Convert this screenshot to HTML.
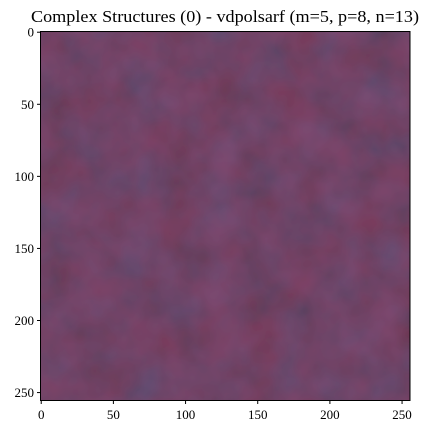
<!DOCTYPE html>
<html><head><meta charset="utf-8"><style>
body{margin:0;background:#fff;width:430px;height:434px;overflow:hidden}
text{font-family:"Liberation Serif",serif;fill:#000}
</style></head><body>
<svg width="430" height="434">
<defs>
<filter id="tex" x="0" y="0" width="1" height="1">
<feTurbulence type="fractalNoise" baseFrequency="0.025" numOctaves="3" seed="7" result="n"/>
<feColorMatrix in="n" type="matrix" values="0.3 0 0 0 0  0 0.1 0 0 0.02  0.05 0.25 0 0 0.02  0 0 0 0 0.4" result="c"/>
<feComposite in="c" in2="SourceGraphic" operator="in"/>
</filter>
</defs>
<text x="225" y="22" font-size="17" text-anchor="middle" textLength="388" lengthAdjust="spacingAndGlyphs">Complex Structures (0) - vdpolsarf (m=5, p=8, n=13)</text>
<g>
<rect x="40.5" y="31.5" width="369.5" height="369" fill="#733f5e"/>
<rect x="40.5" y="31.5" width="369.5" height="369" fill="#733f5e" filter="url(#tex)"/>
</g>
<rect x="40.5" y="31.5" width="369.5" height="369" fill="none" stroke="#000" stroke-width="1"/>
<g id="ticks"></g>
</svg>
<script>
const xTicks=[0,50,100,150,200,250];
const yTicks=[0,50,100,150,200,250];
const x0=40.5,y0=31.5,sx=369.5/256,sy=369/256;
const g=document.getElementById('ticks');
const NS='http://www.w3.org/2000/svg';
function mk(t,a){const e=document.createElementNS(NS,t);for(const k in a)e.setAttribute(k,a[k]);g.appendChild(e);return e;}
xTicks.forEach(v=>{const x=x0+(v+0.5)*sx;
const l=mk('line',{x1:x,x2:x,y1:400.5,y2:404,stroke:'#000'});


const t=mk('text',{x:x,y:419,'font-size':13,'text-anchor':'middle'});t.textContent=v;

});
yTicks.forEach(v=>{const y=y0+(v+0.5)*sy;
const l=mk('line',{x1:37,x2:40.5,y1:y,y2:y,stroke:'#000'});


const t=mk('text',{x:34,y:y+4.5,'font-size':13,'text-anchor':'end'});t.textContent=v;

});
</script>
</body></html>
